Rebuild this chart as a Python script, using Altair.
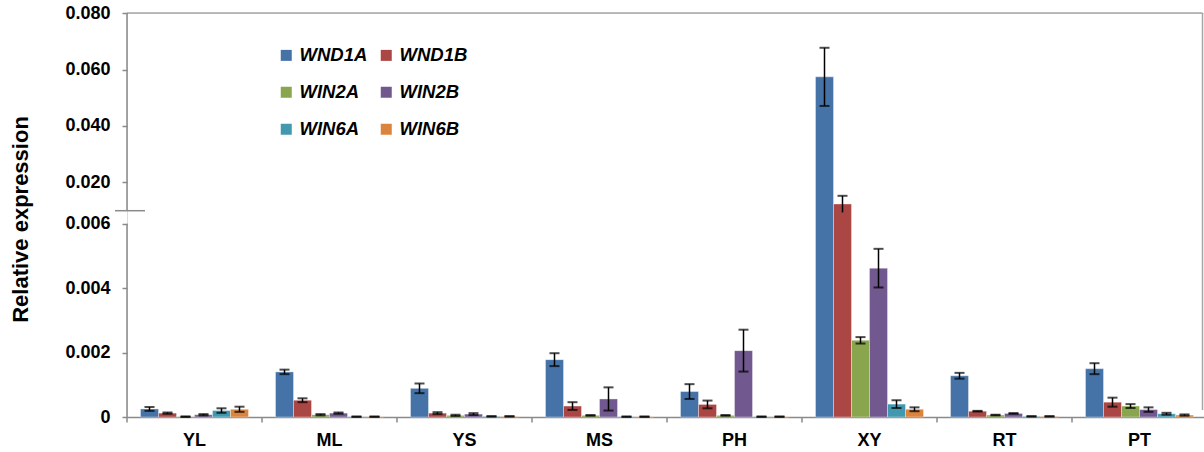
import altair as alt
import pandas as pd

# Tissues (x groups) and genes (bars within each group)
tissues = ["YL", "ML", "YS", "MS", "PH", "XY", "RT", "PT"]
genes = ["WND1A", "WND1B", "WIN2A", "WIN2B", "WIN6A", "WIN6B"]
colors = ["#4572A7", "#AA4643", "#89A54E", "#71588F", "#4198AF", "#DB843D"]

# Mean relative expression per gene, in tissue order
wnd1a = [0.00025, 0.00140, 0.00089, 0.00178, 0.00079, 0.05740, 0.00128, 0.00150]
wnd1b = [0.00012, 0.00052, 0.00012, 0.00034, 0.00039, 0.01237, 0.00018, 0.00046]
win2a = [0.00001, 0.00007, 0.00005, 0.00005, 0.00005, 0.00238, 0.00006, 0.00034]
win2b = [0.00007, 0.00012, 0.00009, 0.00056, 0.00206, 0.00462, 0.00011, 0.00023]
win6a = [0.00020, 0.00001, 0.00002, 0.00001, 0.00001, 0.00040, 0.00002, 0.00010]
win6b = [0.00024, 0.00001, 0.00002, 0.00001, 0.00001, 0.00024, 0.00002, 0.00006]

# Standard errors, same layout
wnd1a_err = [0.00006, 0.00007, 0.00015, 0.00020, 0.00023, 0.01030, 0.00009, 0.00017]
wnd1b_err = [0.00002, 0.00006, 0.00003, 0.00012, 0.00012, 0.00290, 0.00001, 0.00014]
win2a_err = [0.00001, 0.00002, 0.00002, 0.00001, 0.00001, 0.00010, 0.00001, 0.00006]
win2b_err = [0.00002, 0.00002, 0.00003, 0.00036, 0.00065, 0.00060, 0.00001, 0.00007]
win6a_err = [0.00007, 0.000005, 0.000005, 0.000005, 0.000005, 0.00012, 0.000005, 0.00003]
win6b_err = [0.00008, 0.000005, 0.000005, 0.000005, 0.000005, 0.00006, 0.000005, 0.00002]

# Tick values shown on the broken y axis
y_ticks = [0, 0.002, 0.004, 0.006, 0.020, 0.040, 0.060, 0.080]

means = [wnd1a, wnd1b, win2a, win2b, win6a, win6b]
errs = [wnd1a_err, wnd1b_err, win2a_err, win2b_err, win6a_err, win6b_err]

rows = []
for g, m_list, e_list in zip(genes, means, errs):
    for t, m, e in zip(tissues, m_list, e_list):
        rows.append({"tissue": t, "gene": g, "mean": m, "err": e})
df = pd.DataFrame(rows)

# Broken axis: 0-0.006 on the lower segment, 0.010-0.080 on the upper one
LOW_TOP, GAP_TOP = 0.006, 0.010
LOW_K = 32217.0
LOW_TOP_T, UP_BASE_T = 193.3, 206.3
GAP_K = (UP_BASE_T - LOW_TOP_T) / (GAP_TOP - LOW_TOP)
UP_K = 2823.5
Y_MAX_T = 404


def brk(v):
    if v <= LOW_TOP:
        return v * LOW_K
    if v <= GAP_TOP:
        return LOW_TOP_T + (v - LOW_TOP) * GAP_K
    return UP_BASE_T + (v - GAP_TOP) * UP_K


def brk_expr(f):
    f = f"({f})"
    return (f"({f} <= {LOW_TOP} ? {f} * {LOW_K} : ({f} <= {GAP_TOP} ? "
            f"{LOW_TOP_T} + ({f} - {LOW_TOP}) * {GAP_K} : "
            f"{UP_BASE_T} + ({f} - {GAP_TOP}) * {UP_K}))")


label_expr = (f"datum.value < 1 ? '0' : format(datum.value <= {LOW_TOP_T + 0.1} ? "
              f"datum.value / {LOW_K} : {GAP_TOP} + (datum.value - {UP_BASE_T}) / {UP_K}, '.3f')")

FONT = "Liberation Sans"
AXIS_GRAY = "#8a8a8a"

y_axis = alt.Axis(
    title="Relative expression", values=[brk(v) for v in y_ticks], labelExpr=label_expr,
    domain=False, grid=False, ticks=True, tickColor=AXIS_GRAY, tickSize=5, tickWidth=1.5,
    labelFont=FONT, labelFontSize=18, labelFontWeight="bold", labelColor="black",
    labelPadding=12, titleFont=FONT, titleFontSize=22, titleFontWeight="bold",
    titleColor="black", titleX=-95, titleY=206,
)
y_scale = alt.Scale(domain=[0, Y_MAX_T], nice=False, zero=True)

x_axis = alt.Axis(
    title=None, ticks=False, domain=True, domainColor=AXIS_GRAY, domainWidth=1.5,
    labelFont=FONT, labelFontSize=18, labelFontWeight="bold", labelColor="black",
    labelPadding=14.5, labelAngle=0, grid=False,
)
x_scale = alt.Scale(paddingInner=0, paddingOuter=0, range=[0, 1080])
x_enc = alt.X("tissue:N", sort=tissues, scale=x_scale, axis=x_axis)
xo_enc = alt.XOffset("gene:N", sort=genes, scale=alt.Scale(paddingInner=0, paddingOuter=0.75))

base = alt.Chart(df).transform_calculate(
    lo="max(0, datum.mean - datum.err)",
    hi="datum.mean + datum.err",
).transform_calculate(
    yt=brk_expr("datum.mean"),
    lo_t=brk_expr("datum.lo"),
    hi_t=brk_expr("datum.hi"),
)

bars = base.mark_bar(stroke="white", strokeOpacity=0.35, strokeWidth=1).encode(
    x=x_enc,
    xOffset=xo_enc,
    y=alt.Y("yt:Q", scale=y_scale, axis=y_axis),
    color=alt.Color(
        "gene:N", sort=genes, scale=alt.Scale(domain=genes, range=colors),
        legend=alt.Legend(
            title=None, orient="none", legendX=150, legendY=33, columns=2,
            direction="horizontal",
            symbolType="square", symbolSize=121, symbolStrokeWidth=0,
            labelFont=FONT, labelFontSize=18.5, labelFontWeight="bold",
            labelFontStyle="italic", labelColor="black", labelOffset=4,
            rowPadding=18, columnPadding=9, padding=0,
        ),
    ),
)

whiskers = base.mark_rule(color="black", strokeWidth=1.5).encode(
    x=x_enc, xOffset=xo_enc,
    y=alt.Y("lo_t:Q", scale=y_scale, axis=y_axis),
    y2="hi_t:Q",
)

# End caps; a cap that would fall inside the axis break is not drawn
caps = base.transform_fold(["lo", "hi"], as_=["end", "val"]).transform_filter(
    f"!(datum.val > {LOW_TOP} && datum.val < {GAP_TOP})"
).transform_calculate(
    vt=brk_expr("datum.val")
).mark_tick(color="black", thickness=2, size=10).encode(
    x=x_enc, xOffset=xo_enc,
    y=alt.Y("vt:Q", scale=y_scale, axis=y_axis),
)

# Group separators below the x axis
sep = alt.Chart(pd.DataFrame({"tissue": tissues})).mark_rule(
    color=AXIS_GRAY, strokeWidth=1.5
).encode(
    x=alt.X("tissue:N", sort=tissues, scale=x_scale, axis=x_axis, bandPosition=0),
    y=alt.value(Y_MAX_T), y2=alt.value(Y_MAX_T + 5.5),
)

# Two pieces of the y axis line plus the break marker
seg_df = pd.DataFrame({"a": [0.0, GAP_TOP], "b": [LOW_TOP, 0.080]})
segments = alt.Chart(seg_df).transform_calculate(
    at=brk_expr("datum.a"), bt=brk_expr("datum.b")
).mark_rule(color=AXIS_GRAY, strokeWidth=1.5).encode(
    x=alt.value(0),
    y=alt.Y("at:Q", scale=y_scale, axis=y_axis),
    y2="bt:Q",
)

break_mark = alt.Chart(pd.DataFrame({"v": [GAP_TOP]})).transform_calculate(
    vt=brk_expr("datum.v")
).mark_rule(color=AXIS_GRAY, strokeWidth=1.5).encode(
    x=alt.value(-12), x2=alt.value(18),
    y=alt.Y("vt:Q", scale=y_scale, axis=y_axis),
)

# Light frame on the top and right of the plot
frame_top = alt.Chart(pd.DataFrame({"v": [0.080]})).transform_calculate(
    vt=brk_expr("datum.v")
).mark_rule(color="#a6a6a6", strokeWidth=1.5).encode(
    x=alt.value(0), x2=alt.value(1075.5),
    y=alt.Y("vt:Q", scale=y_scale, axis=y_axis),
)
frame_right = alt.Chart(pd.DataFrame({"v": [0.080]})).transform_calculate(
    vt=brk_expr("datum.v")
).mark_rule(color="#a6a6a6", strokeWidth=1.5).encode(
    x=alt.value(1075.5),
    y=alt.Y("vt:Q", scale=y_scale, axis=y_axis),
    y2=alt.value(397),
)

chart = alt.layer(
    frame_top, frame_right, bars, whiskers, caps, sep, segments, break_mark
).properties(
    width=1077, height=Y_MAX_T,
    autosize=alt.AutoSizeParams(type="none"),
    padding={"left": 127, "top": 13, "right": 0, "bottom": 35},
).configure_view(stroke=None).configure(background="white")

chart.save("out.html", embed_options={"renderer": "svg", "actions": False})
